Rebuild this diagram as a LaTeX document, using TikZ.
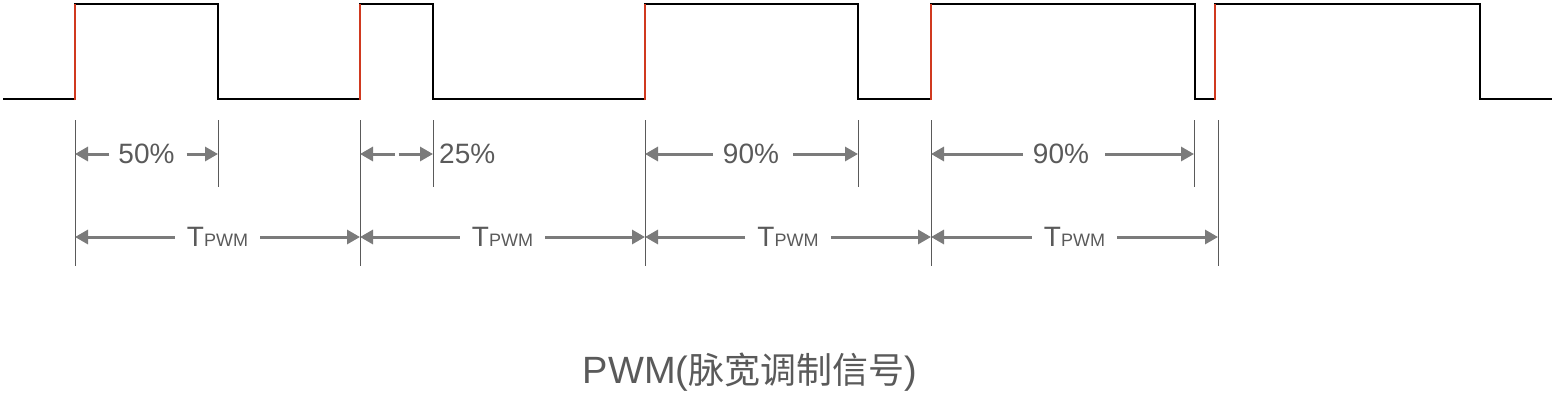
\documentclass[tikz,border=0pt]{standalone}
\usepackage{fontspec}
\setmainfont{Liberation Sans}
\newfontfamily\cjk{Noto Sans CJK SC}
\usetikzlibrary{arrows.meta}
\definecolor{wavered}{HTML}{D0391F}
\definecolor{dimgray}{HTML}{7B7B7B}
\definecolor{txtgray}{HTML}{5A5A5A}
\tikzset{
  wave/.style={line width=2.4pt,black},
  edge/.style={line width=2.4pt,wavered},
  extline/.style={line width=0.9pt,txtgray},
  dimarrow/.style={-{Triangle[length=13pt,width=14pt]},line width=3pt,dimgray},
  pct/.style={font=\fontsize{28}{30}\selectfont,text=txtgray,inner sep=0pt},
}
\newcommand{\tpwm}{T{\fontsize{18}{18}\selectfont PWM}}
\begin{document}
\begin{tikzpicture}[x=1pt,y=-1pt,line join=miter]
\useasboundingbox (0,0) rectangle (1555,400);
% waveform
\draw[wave] (3,99)--(75,99)--(75,4)--(218,4)--(218,99)--(360,99)--(360,4)--(433,4)--(433,99)--(645,99)--(645,4)--(858,4)--(858,99)--(931,99)--(931,4)--(1195,4)--(1195,99)--(1215,99)--(1215,4)--(1480,4)--(1480,99)--(1552,99);
\foreach \x in {75,360,645,931,1215}
  \draw[edge] (\x,100)--(\x,4);
% extension lines
\foreach \n/\x in {1/75,2/360,3/645,4/931,5/1218}
  \draw[extline] (\x,120) coordinate (r\n) -- (\x,266);
\foreach \n/\x in {1/218,2/433,3/858,4/1194}
  \draw[extline] (\x,120) coordinate (f\n) -- (\x,187);
% duty cycles
\path (146.5,154) node[pct] (d1) {50\%};
\draw[dimarrow] ([xshift=-9pt]d1.west) -- (d1 -| r1);
\draw[dimarrow] ([xshift=12pt]d1.east) -- (d1 -| f1);
\path (439,154) node[pct,anchor=west] (d2) {25\%};
\coordinate (m2) at (396.5,154);
\draw[dimarrow] ([xshift=-2pt]m2) -- (m2 -| r2);
\draw[dimarrow] ([xshift=2pt]m2) -- (m2 -| f2);
\path (751,154) node[pct] (d3) {90\%};
\draw[dimarrow] ([xshift=-10pt]d3.west) -- (d3 -| r3);
\draw[dimarrow] ([xshift=14pt]d3.east) -- (d3 -| f3);
\path (1061,154) node[pct] (d4) {90\%};
\draw[dimarrow] ([xshift=-10pt]d4.west) -- (d4 -| r4);
\draw[dimarrow] ([xshift=16pt]d4.east) -- (d4 -| f4);
% periods
\path (217.5,237) node[pct] (t1) {\tpwm};
\path (502.5,237) node[pct] (t2) {\tpwm};
\path (788,237) node[pct] (t3) {\tpwm};
\path (1074.5,237) node[pct] (t4) {\tpwm};
\foreach \n/\m in {1/2,2/3,3/4,4/5}{
  \draw[dimarrow] ([xshift=-12pt]t\n.west) -- (t\n -| r\n);
  \draw[dimarrow] ([xshift=12pt]t\n.east) -- (t\n -| r\m);
}
\path (750,383) node[anchor=base,text=txtgray,inner sep=0pt] (title)
  {\fontsize{38}{40}\selectfont PWM({\cjk\fontsize{36}{40}\selectfont 脉宽调制信号})};
\end{tikzpicture}
\end{document}
